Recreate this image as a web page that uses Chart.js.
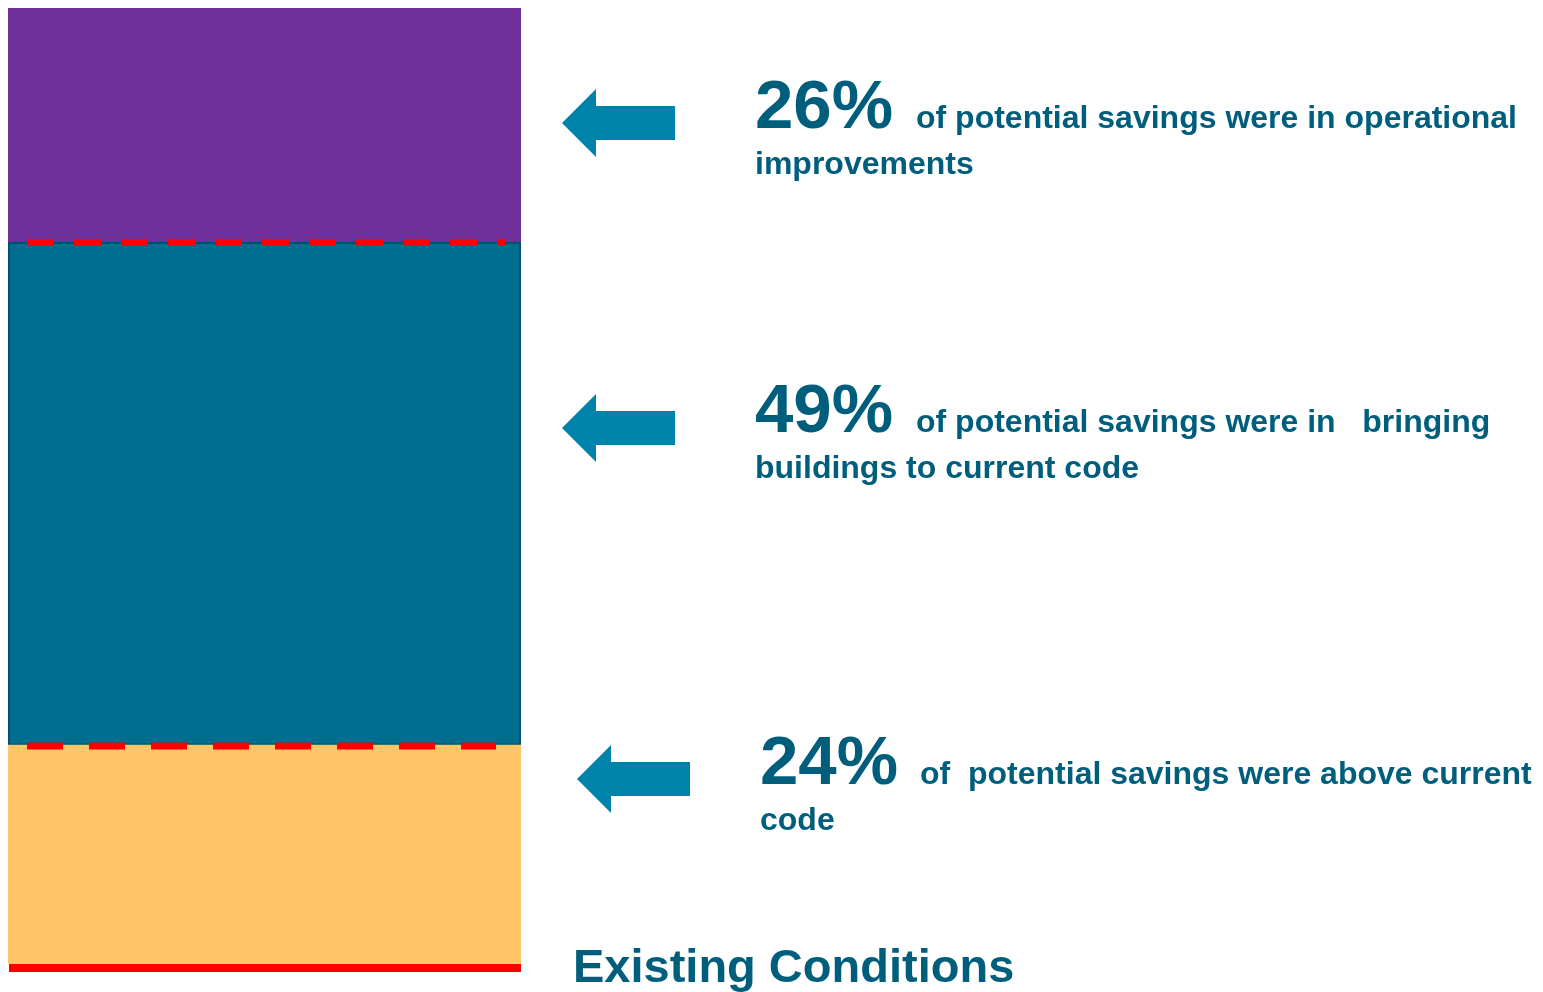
<!DOCTYPE html>
<html lang="en">
<head>
    <meta charset="UTF-8">
    <title>Existing Conditions</title>
    <script src="https://cdn.jsdelivr.net/npm/chart.js"></script>
    <style>
        html, body { margin: 0; padding: 0; background: #fff; }
        #wrap { width: 1543px; height: 992px; }
    </style>
</head>
<body>
    <div id="wrap">
        <canvas id="savingsChart" width="1543" height="992"></canvas>
    </div>
    <script>
        // segmentos de abajo hacia arriba, alturas (%)
        const categories = ['Existing Conditions'];
        const segmentNames = ['Above current code', 'Bringing buildings to current code', 'Operational improvements'];
        const segmentValues = [22.9, 52.6, 24.5];
        const segmentColors = ['#ffc567', '#006e8f', '#6f309c'];

        // textos de la derecha, de arriba hacia abajo
        const percentLabels = ['26%', '49%', '24%'];
        const firstLines = [
            'of potential savings were in operational',
            'of potential savings were in   bringing',
            'of  potential savings were above current'
        ];
        const secondLines = ['improvements', 'buildings to current code', 'code'];

        const textColor = '#005e7d';
        const arrowColor = '#0083aa';

        function drawArrow(ctx, x, y) {
            ctx.fillStyle = arrowColor;
            ctx.beginPath();
            ctx.moveTo(x, y);
            ctx.lineTo(x + 34, y - 34);
            ctx.lineTo(x + 34, y - 17);
            ctx.lineTo(x + 113, y - 17);
            ctx.lineTo(x + 113, y + 17);
            ctx.lineTo(x + 34, y + 17);
            ctx.lineTo(x + 34, y + 34);
            ctx.closePath();
            ctx.fill();
        }

        function dashedLine(ctx, x1, x2, y, dash, gap, width) {
            ctx.save();
            ctx.strokeStyle = '#ff0000';
            ctx.lineWidth = width;
            ctx.setLineDash([dash, gap]);
            ctx.beginPath();
            ctx.moveTo(x1, y);
            ctx.lineTo(x2, y);
            ctx.stroke();
            ctx.restore();
        }

        const notes = {
            id: 'notes',
            afterDatasetsDraw(chart) {
                const ctx = chart.ctx;
                const bottomBar = chart.getDatasetMeta(0).data[0];
                const midBar = chart.getDatasetMeta(1).data[0];
                const left = chart.chartArea.left;
                const right = chart.chartArea.right;

                // lineas rojas entre segmentos y en la base
                dashedLine(ctx, left + 19, right - 16, midBar.y, 27, 20, 6);
                dashedLine(ctx, left + 19, right - 25, bottomBar.y + 1, 36, 26, 7);
                ctx.fillStyle = '#ff0000';
                ctx.fillRect(left + 1, bottomBar.base, right - left - 1, 8);

                // flechas y textos
                const rows = [
                    { ax: 562, ay: 123, tx: 755, ty: 128, sx: 916 },
                    { ax: 562, ay: 428, tx: 755, ty: 432, sx: 916 },
                    { ax: 577, ay: 779, tx: 760, ty: 784, sx: 920 }
                ];
                ctx.save();
                ctx.textBaseline = 'alphabetic';
                rows.forEach((r, i) => {
                    drawArrow(ctx, r.ax, r.ay);
                    ctx.fillStyle = textColor;
                    ctx.font = 'bold 69px "Liberation Sans", Arial, sans-serif';
                    ctx.fillText(percentLabels[i], r.tx, r.ty);
                    ctx.font = 'bold 32px "Liberation Sans", Arial, sans-serif';
                    ctx.fillText(firstLines[i], r.sx, r.ty);
                    ctx.fillText(secondLines[i], r.tx, r.ty + 46);
                });
                ctx.fillStyle = textColor;
                ctx.font = 'bold 47px "Liberation Sans", Arial, sans-serif';
                ctx.fillText(categories[0], 573, 982);
                ctx.restore();
            }
        };

        const datasets = segmentValues.map((v, i) => ({
            label: segmentNames[i],
            data: [v],
            backgroundColor: segmentColors[i],
            borderColor: i === 1 ? '#00506b' : segmentColors[i],
            borderWidth: i === 1 ? 2 : 0,
            borderSkipped: false,
            categoryPercentage: 1,
            barPercentage: 1
        }));

        new Chart(document.getElementById('savingsChart'), {
            type: 'bar',
            data: { labels: categories, datasets: datasets },
            options: {
                responsive: false,
                animation: false,
                layout: { padding: { left: 8, top: 8, right: 1022, bottom: 28 } },
                scales: {
                    x: { stacked: true, display: false },
                    y: { stacked: true, display: false, min: 0, max: 100 }
                },
                plugins: {
                    legend: { display: false },
                    tooltip: { enabled: false }
                }
            },
            plugins: [notes]
        });
    </script>
</body>
</html>
